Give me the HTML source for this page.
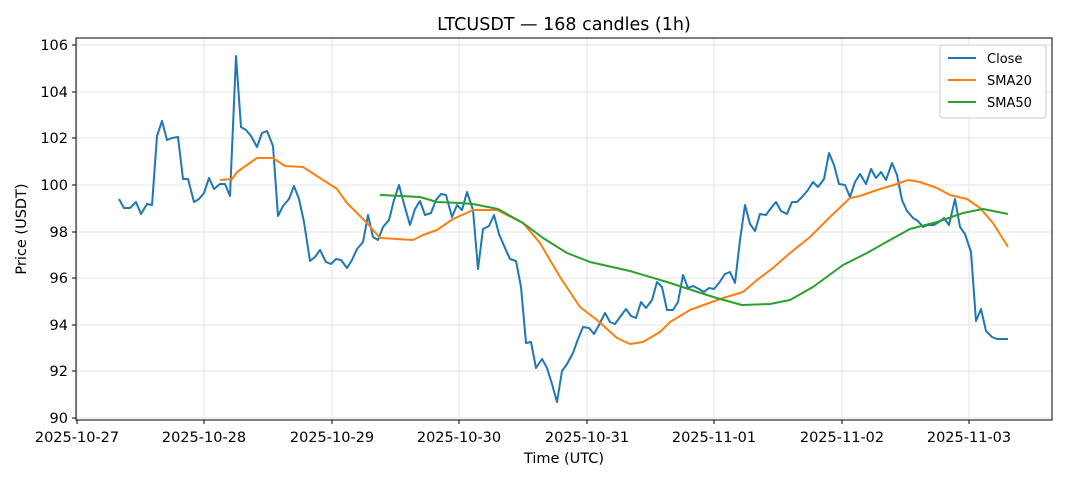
<!DOCTYPE html>
<html><head><meta charset="utf-8"><style>body{margin:0;background:#fff}svg{font-family:"DejaVu Sans","Liberation Sans",sans-serif}</style></head><body>
<svg width="1068" height="481" xmlns="http://www.w3.org/2000/svg">
<rect width="1068" height="481" fill="#fff"/>
<g stroke="#e5e5e5" stroke-width="1">
<line x1="77" y1="38" x2="77" y2="420"/><line x1="204" y1="38" x2="204" y2="420"/><line x1="332" y1="38" x2="332" y2="420"/><line x1="459" y1="38" x2="459" y2="420"/><line x1="587" y1="38" x2="587" y2="420"/><line x1="714" y1="38" x2="714" y2="420"/><line x1="842" y1="38" x2="842" y2="420"/><line x1="969" y1="38" x2="969" y2="420"/>
<line x1="76" y1="418" x2="1052" y2="418"/><line x1="76" y1="371" x2="1052" y2="371"/><line x1="76" y1="325" x2="1052" y2="325"/><line x1="76" y1="278" x2="1052" y2="278"/><line x1="76" y1="232" x2="1052" y2="232"/><line x1="76" y1="185" x2="1052" y2="185"/><line x1="76" y1="138" x2="1052" y2="138"/><line x1="76" y1="92" x2="1052" y2="92"/><line x1="76" y1="45" x2="1052" y2="45"/>
</g>
<g fill="none" stroke-width="2" stroke-linejoin="round">
<polyline stroke="#1f77b4" points="119,199 124,208 130,208 136,202 141,214 147,204 152,205 157,136 162,121 167,140 172,138 178,137 183,179 188,179 194,202 199,199 204,193 209,178 214,189 220,184 225,184 230,196 236,56 241,127 246,130 251,136 257,147 262,133 267,131 273,146 278,216 283,206 289,199 294,186 299,199 304,222 310,261 315,257 320,250 326,262 331,264 336,259 341,260 347,268 352,260 357,249 363,242 368,215 373,237 378,240 383,227 389,220 394,200 399,185 404,204 410,225 415,209 420,201 425,215 431,213 436,200 441,194 446,195 452,217 457,205 462,210 467,192 473,210 478,269 483,229 489,226 494,215 499,234 505,248 510,259 516,261 521,287 526,343 531,342 536,368 542,359 547,368 552,384 557,402 562,371 567,364 573,353 578,339 583,327 589,328 594,334 599,325 605,313 610,322 615,324 620,317 626,309 631,316 636,318 641,302 646,308 652,300 657,282 662,287 667,310 673,310 678,302 683,275 688,288 693,286 699,289 704,292 709,288 714,289 719,283 725,274 730,272 735,283 740,240 745,205 750,224 755,231 760,214 766,215 771,208 776,202 781,211 787,214 792,202 797,202 802,197 808,190 813,182 818,187 824,179 829,153 834,165 839,184 845,185 850,197 855,182 860,174 866,184 871,169 876,178 881,172 886,180 892,163 897,175 902,200 907,211 913,218 918,221 923,227 928,225 934,225 939,222 944,218 949,225 955,199 960,227 965,234 971,252 976,321 981,309 986,331 992,337 997,339 1008,339"/>
<polyline stroke="#ff7f0e" points="220,180 232,179 237,172 257,158 273,158 285,166 303,167 337,189 347,203 367,223 380,238 413,240 423,235 437,230 453,219 473,210 497,210 523,223 540,243 560,277 580,307 597,320 617,338 630,344 643,342 660,332 670,322 690,310 720,299 743,292 757,280 773,268 790,253 810,237 830,217 850,198 860,196 877,190 897,184 908,180 920,182 937,188 950,195 967,199 980,208 993,223 1008,247"/>
<polyline stroke="#2ca02c" points="380,195 420,197 437,202 460,203 473,204 498,209 523,223 543,238 567,253 590,262 630,271 667,282 707,295 720,299 742,305 770,304 790,300 813,287 843,265 867,253 890,240 910,229 937,222 963,213 983,209 1008,214"/>
</g>
<rect x="76" y="38" width="976" height="382" fill="none" stroke="#000" stroke-width="1"/>
<g stroke="#000"><line x1="77" y1="420" x2="77" y2="424"/><line x1="204" y1="420" x2="204" y2="424"/><line x1="332" y1="420" x2="332" y2="424"/><line x1="459" y1="420" x2="459" y2="424"/><line x1="587" y1="420" x2="587" y2="424"/><line x1="714" y1="420" x2="714" y2="424"/><line x1="842" y1="420" x2="842" y2="424"/><line x1="969" y1="420" x2="969" y2="424"/>
<line x1="72" y1="418" x2="76" y2="418"/><line x1="72" y1="371" x2="76" y2="371"/><line x1="72" y1="325" x2="76" y2="325"/><line x1="72" y1="278" x2="76" y2="278"/><line x1="72" y1="232" x2="76" y2="232"/><line x1="72" y1="185" x2="76" y2="185"/><line x1="72" y1="138" x2="76" y2="138"/><line x1="72" y1="92" x2="76" y2="92"/><line x1="72" y1="45" x2="76" y2="45"/></g>
<g font-size="14.5" text-anchor="middle" fill="#000">
<text x="77" y="442">2025-10-27</text><text x="204" y="442">2025-10-28</text><text x="332" y="442">2025-10-29</text><text x="459" y="442">2025-10-30</text><text x="587" y="442">2025-10-31</text><text x="714" y="442">2025-11-01</text><text x="842" y="442">2025-11-02</text><text x="969" y="442">2025-11-03</text>
</g>
<g font-size="14.5" text-anchor="end"><text x="68" y="423">90</text><text x="68" y="376">92</text><text x="68" y="330">94</text><text x="68" y="283">96</text><text x="68" y="237">98</text><text x="68" y="190">100</text><text x="68" y="143">102</text><text x="68" y="97">104</text><text x="68" y="50">106</text></g>
<text x="564" y="463" font-size="14.5" text-anchor="middle">Time (UTC)</text>
<text x="26" y="229" font-size="14.5" text-anchor="middle" transform="rotate(-90 26 229)">Price (USDT)</text>
<text x="564" y="30" font-size="17.5" text-anchor="middle">LTCUSDT — 168 candles (1h)</text>
<rect x="940" y="45" width="106" height="73" fill="#fff" stroke="#ccc" rx="3"/>
<g stroke-width="2"><line x1="948" y1="58" x2="976" y2="58" stroke="#1f77b4"/><line x1="948" y1="80" x2="976" y2="80" stroke="#ff7f0e"/><line x1="948" y1="102" x2="976" y2="102" stroke="#2ca02c"/></g>
<g font-size="13"><text x="987" y="63">Close</text><text x="987" y="85">SMA20</text><text x="987" y="107">SMA50</text></g>
</svg>
</body></html>
